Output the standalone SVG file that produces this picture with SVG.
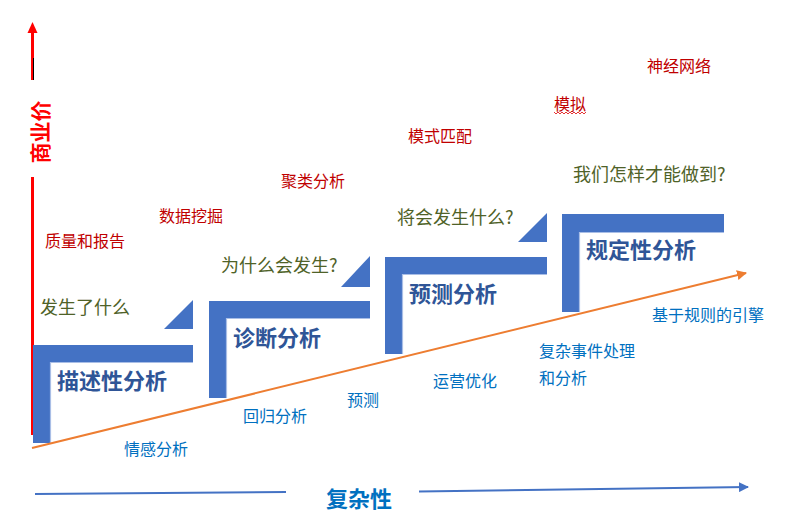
<svg xmlns="http://www.w3.org/2000/svg" width="787" height="525" viewBox="0 0 787 525">
<defs>
<style>
.bar{fill:#4472C4}
.edge{fill:none;stroke:#A9BEE6;stroke-width:1.2}
.ttl{font-family:"Noto Sans CJK SC","Liberation Sans",sans-serif;font-weight:bold;font-size:22px;fill:#2F5597}
.q{font-family:"Noto Sans CJK SC","Liberation Sans",sans-serif;font-size:18px;fill:#4F6228}
.red{font-family:"Noto Sans CJK SC","Liberation Sans",sans-serif;font-size:16px;fill:#C00000}
.blue{font-family:"Noto Sans CJK SC","Liberation Sans",sans-serif;font-size:16px;fill:#0070C0}
</style>
<marker id="arrO" viewBox="0 0 10 10" refX="9" refY="5" markerWidth="5" markerHeight="5" markerUnits="strokeWidth" orient="auto"><path d="M0,0L10,5L0,10z" fill="#ED7D31"/></marker>
<marker id="arrB" viewBox="0 0 10 10" refX="9" refY="5" markerWidth="5" markerHeight="5" markerUnits="strokeWidth" orient="auto"><path d="M0,0L10,5L0,10z" fill="#4472C4"/></marker>
</defs>
<rect width="787" height="525" fill="#FFFFFF"/>

<g id="axis-y">
<line x1="32.5" y1="31" x2="32.5" y2="80" stroke="#FF0000" stroke-width="3"/>
<polygon points="32.5,22 27.5,33 37.5,33" fill="#FF0000"/>
<line x1="33.5" y1="58" x2="33.5" y2="80" stroke="#000000" stroke-width="1"/>
<text transform="translate(48,132) rotate(-90)" text-anchor="middle" style="font-family:'Noto Sans CJK SC','Liberation Sans',sans-serif;font-weight:bold;font-size:21px;fill:#FF0000">商业价</text>
<line x1="32.5" y1="177" x2="32.5" y2="435" stroke="#FF0000" stroke-width="3"/>
</g>

<g id="step1">
<polygon class="bar" points="33,345 193,345 193,362 50,362 50,443 33,443"/>
<polyline class="edge" points="50.5,443 50.5,362.5 193,362.5"/>
<polygon class="bar" points="193,300 193,329 164,329"/>
<text class="ttl" x="57" y="389">描述性分析</text>
</g>
<g id="step2">
<polygon class="bar" points="209,301 370,301 370,318 226,318 226,398 209,398"/>
<polyline class="edge" points="226.5,398 226.5,318.5 370,318.5"/>
<polygon class="bar" points="370,256 370,287 341,287"/>
<text class="ttl" x="233" y="346">诊断分析</text>
</g>
<g id="step3">
<polygon class="bar" points="385,257 547,257 547,274 402,274 402,354 385,354"/>
<polyline class="edge" points="402.5,354 402.5,274.5 547,274.5"/>
<polygon class="bar" points="547,213 547,242 518,242"/>
<text class="ttl" x="409" y="302">预测分析</text>
</g>
<g id="step4">
<polygon class="bar" points="562,214 724,214 724,232 579,232 579,312 562,312"/>
<polyline class="edge" points="579.5,312 579.5,232.5 724,232.5"/>
<text class="ttl" x="586" y="258">规定性分析</text>
</g>

<g id="connectors">
<line x1="32" y1="448" x2="746" y2="273" stroke="#ED7D31" stroke-width="2" marker-end="url(#arrO)"/>
<line x1="35" y1="494" x2="286" y2="492" stroke="#4472C4" stroke-width="2"/>
<line x1="419" y1="491.5" x2="748" y2="487" stroke="#4472C4" stroke-width="2" marker-end="url(#arrB)"/>
</g>

<g id="questions">
<text class="q" x="40" y="314">发生了什么</text>
<text class="q" x="221" y="272">为什么会发生?</text>
<text class="q" x="397" y="224">将会发生什么?</text>
<text class="q" x="573" y="181">我们怎样才能做到?</text>
</g>

<g id="methods-red">
<text class="red" x="45" y="247">质量和报告</text>
<text class="red" x="159" y="222">数据挖掘</text>
<text class="red" x="281" y="187">聚类分析</text>
<text class="red" x="408" y="142">模式匹配</text>
<text class="red" x="554" y="110">模拟</text>
<polyline points="554,112 556,114 558,112 560,114 562,112 564,114 566,112 568,114 570,112 572,114 574,112 576,114 578,112 580,114 582,112 584,114 586,112" fill="none" stroke="#E00000" stroke-width="0.8"/>
<text class="red" x="647" y="72">神经网络</text>
</g>

<g id="methods-blue">
<text class="blue" x="124" y="455">情感分析</text>
<text class="blue" x="243" y="422">回归分析</text>
<text class="blue" x="347" y="406">预测</text>
<text class="blue" x="433" y="387">运营优化</text>
<text class="blue" x="539" y="357">复杂事件处理</text>
<text class="blue" x="539" y="384">和分析</text>
<text class="blue" x="652" y="321">基于规则的引擎</text>
</g>

<g id="axis-x-label">
<text x="326" y="507" style="font-family:'Noto Sans CJK SC','Liberation Sans',sans-serif;font-weight:bold;font-size:22px;fill:#0070C0">复杂性</text>
</g>
</svg>
